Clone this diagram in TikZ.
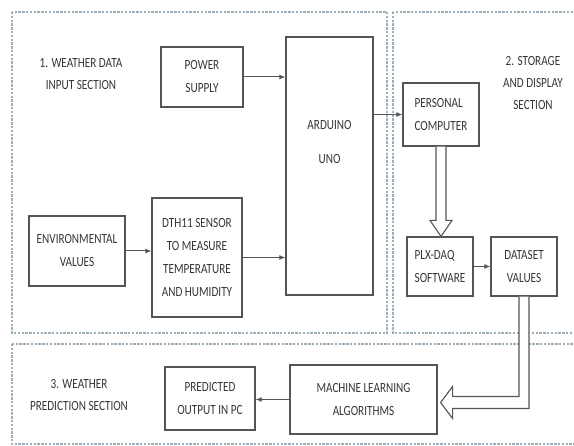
\documentclass[tikz,border=0pt]{standalone}
\usepackage{fontspec}
\setmainfont{Carlito}[FakeStretch=0.8]
\usetikzlibrary{arrows.meta, positioning, calc}
\definecolor{cline}{HTML}{555555}
\definecolor{ctext}{HTML}{363636}
\definecolor{cframe}{HTML}{9DAEB8}
\tikzset{
  every picture/.style={line width=1.2pt},
  box/.style={draw=cline, fill=white, align=center, inner sep=3pt, text=ctext, font=\fontsize{14}{23}\selectfont},
  frame/.style={draw=cframe, dash pattern=on 2.4pt off 1.4pt, line width=1.6pt},
  arrow/.style={-{Latex[length=6pt, width=5pt]}, draw=cline, line width=1pt},
  hollow/.style={draw=cline, line width=1.1pt, fill=white, line join=miter},
  title/.style={font=\fontsize{14}{22}\selectfont, text=ctext, align=center},
}

\begin{document}
\begin{tikzpicture}[x=1pt, y=-1pt]
  \useasboundingbox (0,0) rectangle (574,446);
  % section frames
  \draw[frame] (12,12) rectangle (387,333);
  \draw[frame] (393,12) rectangle (580,333);
  \draw[frame] (12,344) rectangle (580,444);
  \node[title] (sec1) at (81,74) {1. WEATHER DATA\\INPUT SECTION};
  \node[title] (sec2) at (533,83) {2. STORAGE\\AND DISPLAY\\SECTION};
  \node[title] (sec3) at (79,395) {3. WEATHER\\PREDICTION SECTION};
  % input section
  \node[box, minimum width=82, minimum height=60] (power) at (202,77) {POWER\\SUPPLY};
  \node[box, minimum width=87, minimum height=258, label={[title, yshift=23.5pt]center:{ARDUINO\\[12pt]UNO}}] (ard) at (329.5,166) {};
  \node[box, minimum width=96, minimum height=70] (env) at (77,251) {ENVIRONMENTAL\\VALUES};
  \node[box, minimum width=90, minimum height=119] (dth) at (197,257.5) {DTH11 SENSOR\\TO MEASURE\\TEMPERATURE\\AND HUMIDITY};
  \draw[arrow] (power.east) -- (power.east -| ard.west);
  \draw[arrow] (env.east) -- (env.east -| dth.west);
  \draw[arrow] (dth.east) -- (dth.east -| ard.west);
  % storage and display
  \node[box, align=left, minimum width=76, minimum height=63] (pc) at (441,114.5) {PERSONAL\\COMPUTER};
  \node[box, align=left, minimum width=66, minimum height=59] (plx) at (440,266.5) {PLX-DAQ\\SOFTWARE};
  \node[box, minimum width=66, minimum height=59] (ds) at (524,266.5) {DATASET\\VALUES};
  \draw[arrow] (pc.west -| ard.east) -- (pc.west);
  \draw[arrow] (plx.east) -- (plx.east -| ds.west);
  \draw[hollow] ($(pc.south)+(-5,0)$) -- ($(pc.south |- plx.north)+(-5,-16)$) -- ++(-6,0) -- (pc.south |- plx.north) -- ++(11,-16) -- ++(-6,0) -- ($(pc.south)+(5,0)$);
  % prediction section
  \node[box, minimum width=90, minimum height=63] (pred) at (210,398.5) {PREDICTED\\OUTPUT IN PC};
  \node[box, minimum width=147, minimum height=69] (ml) at (363.5,399.5) {MACHINE LEARNING\\ALGORITHMS};
  \draw[arrow] (ml.west) -- (ml.west -| pred.east);
  \coordinate (mlin) at ($(ml.east)+(3,3)$);
  \draw[hollow] ($(ds.south)+(-5,0)$) -- ($(ds.south |- mlin)+(-5,-6)$) -- ($(mlin)+(12,-6)$) -- ++(0,-10) -- (mlin) -- ++(12,16) -- ++(0,-10) -- ($(ds.south |- mlin)+(5,6)$) -- ($(ds.south)+(5,0)$);
\end{tikzpicture}
\end{document}
